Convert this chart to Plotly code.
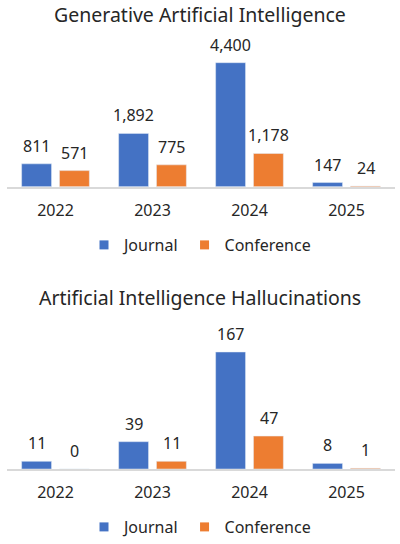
import plotly.graph_objects as go

years = ["2022", "2023", "2024", "2025"]
gen_journal = [811, 1892, 4400, 147]
gen_conference = [571, 775, 1178, 24]
hal_journal = [11, 39, 167, 8]
hal_conference = [0, 11, 47, 1]
series_names = ["Journal", "Conference"]
titles = ["Generative Artificial Intelligence", "Artificial Intelligence Hallucinations"]

BLUE = "#4472C4"
ORANGE = "#ED7D31"
FONT = "Noto Sans"
TXT = "#262626"
W, H = 400, 544

def py(px):
    return 1 - px / H

fig = go.Figure()

panels = [
    dict(j=gen_journal, c=gen_conference, xa="x", ya="y", leg="legend", rng=5205, dom=[py(186.7), py(40)]),
    dict(j=hal_journal, c=hal_conference, xa="x2", ya="y2", leg="legend2", rng=212.7, dom=[py(469), py(320)]),
]

for p in panels:
    for name, vals, col, shift in ((series_names[0], p["j"], BLUE, -19),
                                   (series_names[1], p["c"], ORANGE, 19)):
        fig.add_trace(go.Bar(x=years, y=vals, name=name, marker_color=col, showlegend=False,
                             xaxis=p["xa"], yaxis=p["ya"]))
        # legend-only entry with a small square swatch
        fig.add_trace(go.Scatter(x=[None], y=[None], mode="markers", name=name,
                                 marker=dict(symbol="square", size=9, color=col),
                                 xaxis=p["xa"], yaxis=p["ya"], legend=p["leg"]))
        for i, v in enumerate(vals):
            # category axes take the category index for annotations
            fig.add_annotation(x=i, y=v, xref=p["xa"], yref=p["ya"], text=f"{v:,}",
                               showarrow=False, xshift=shift, yshift=5, yanchor="bottom",
                               font=dict(family=FONT, size=16, color=TXT))

axis_common = dict(type="category", range=[-0.5, 3.5], showline=True, linecolor="#D9D9D9",
                   linewidth=1.5, ticks="", showgrid=False, zeroline=False,
                   tickfont=dict(family=FONT, size=16, color=TXT), ticklabelstandoff=8)
yaxis_common = dict(showticklabels=False, showgrid=False, zeroline=False, showline=False, ticks="")
legend_common = dict(orientation="h", x=0.5, xanchor="center", yanchor="middle",
                     font=dict(family=FONT, size=16, color=TXT), itemwidth=30,
                     traceorder="normal")
fig.update_layout(
    width=W, height=H, margin=dict(l=0, r=0, t=0, b=0),
    paper_bgcolor="white", plot_bgcolor="white",
    barmode="group", bargap=0.22, bargroupgap=0.21,
    xaxis=dict(domain=[7 / W, 395 / W], anchor="y", **axis_common),
    xaxis2=dict(domain=[7 / W, 395 / W], anchor="y2", **axis_common),
    yaxis=dict(domain=panels[0]["dom"], range=[0, panels[0]["rng"]], anchor="x", **yaxis_common),
    yaxis2=dict(domain=panels[1]["dom"], range=[0, panels[1]["rng"]], anchor="x2", **yaxis_common),
    legend=dict(y=py(245), **legend_common),
    legend2=dict(y=py(527), **legend_common),
    showlegend=True,
)

for t, ypx in zip(titles, (14, 297)):
    fig.add_annotation(text=t, x=0.5, y=py(ypx), xref="paper", yref="paper", showarrow=False,
                       xanchor="center", yanchor="middle",
                       font=dict(family=FONT, size=19.5, color=TXT))

fig.write_html("out.html")
